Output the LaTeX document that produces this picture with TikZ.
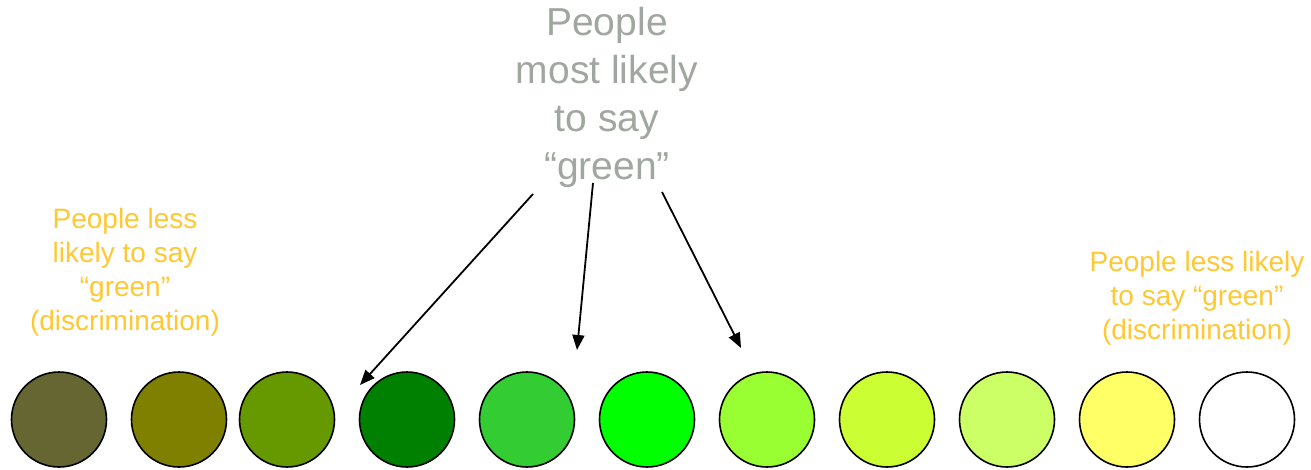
\documentclass[tikz,border=0pt]{standalone}
\usepackage{fontspec}
\setmainfont{Liberation Sans}
\usetikzlibrary{arrows.meta}
\definecolor{cA}{HTML}{666633}
\definecolor{cB}{HTML}{808000}
\definecolor{cC}{HTML}{669900}
\definecolor{cD}{HTML}{008000}
\definecolor{cE}{HTML}{33CC33}
\definecolor{cF}{HTML}{00FF00}
\definecolor{cG}{HTML}{99FF33}
\definecolor{cH}{HTML}{CCFF33}
\definecolor{cI}{HTML}{CCFF66}
\definecolor{cJ}{HTML}{FFFF66}
\definecolor{cK}{HTML}{FFFFFF}
\definecolor{graytxt}{RGB}{160,166,160}
\definecolor{goldtxt}{RGB}{255,200,50}
\tikzset{
  dot/.style={circle, draw=black, line width=1.6pt, minimum size=95pt, inner sep=0pt},
  ptr/.style={line width=1.8pt, -{Triangle[length=15pt,width=12pt]}},
  maintext/.style={text=graytxt, font=\fontsize{39pt}{48pt}\selectfont, align=center, inner sep=0pt},
  sidetext/.style={text=goldtxt, font=\fontsize{28pt}{34pt}\selectfont, align=center, inner sep=0pt}
}
\begin{document}
\begin{tikzpicture}[x=1pt,y=-1pt]
\useasboundingbox (0,0) rectangle (1311,469);
\foreach \c/\x [count=\i] in {cA/59,cB/179,cC/287,cD/407,cE/527,cF/647,cG/767,cH/887,cI/1007,cJ/1127,cK/1247}
  \node[dot, fill=\c] (d\i) at (\x,419.5) {};
\node[maintext, anchor=north] (most) at (607,7.5) {People\\most likely\\to say\\“green”};
\node[sidetext] (lessL) at (125,272) {People less\\likely to say\\“green”\\(discrimination)};
\node[sidetext] (lessR) at (1197,298) {People less likely\\to say “green”\\(discrimination)};
\coordinate (s1) at (533,194);
\coordinate (s2) at (593,183);
\coordinate (s3) at (662,192);
\coordinate (e1) at (360,385);
\coordinate (e2) at (577,350);
\coordinate (e3) at (741,348);
\draw[ptr] (s1) -- (e1);
\draw[ptr] (s2) -- (e2);
\draw[ptr] (s3) -- (e3);
\end{tikzpicture}
\end{document}
